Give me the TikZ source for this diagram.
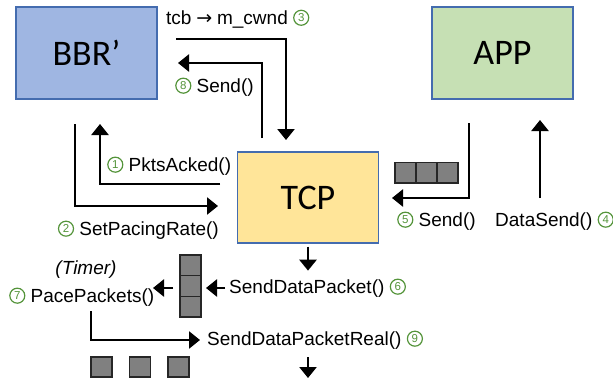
\documentclass[tikz,border=0pt]{standalone}
\usepackage{fontspec}
\setmainfont{Liberation Sans}
\newfontfamily\boxfont{Carlito}
\newfontfamily\circfont{DejaVu Sans}
\usetikzlibrary{arrows.meta,calc}

\definecolor{bbrfill}{RGB}{159,182,226}
\definecolor{appfill}{RGB}{198,224,180}
\definecolor{tcpfill}{RGB}{255,229,153}
\definecolor{boxedge}{RGB}{68,108,175}
\definecolor{pktgray}{RGB}{128,128,128}
\definecolor{stepgreen}{RGB}{84,148,58}

\tikzset{stepcirc/.style={circle,draw=stepgreen,text=stepgreen,line width=1.2pt,
    minimum size=15pt,inner sep=0pt,font=\fontsize{11.5}{12}\selectfont}}

% green step number in front of/behind a call
\newcommand\stepno[1]{\tikz[baseline={([yshift=-6.8pt]sn.center)}]\node[stepcirc] (sn) {#1};}
\newcommand\ptr{\makebox[15pt]{\circfont\fontsize{19}{22}\selectfont →}}

\begin{document}
\begin{tikzpicture}[x=1pt,y=-1pt,
        block/.style={draw=boxedge,line width=1.3pt,minimum width=141pt,
            minimum height=92pt,inner sep=0pt,
            font=\boxfont\fontsize{36}{40}\selectfont},
        pkt/.style={draw=black!85,fill=pktgray,line width=1.3pt,
            minimum width=21pt,minimum height=20.7pt,inner sep=0pt},
        flow/.style={line width=2.6pt,-{Triangle[width=17pt,length=11pt]}},
        call/.style={inner sep=0pt,font=\fontsize{19}{22}\selectfont}
        ]
        \useasboundingbox (0,0) rectangle (613,383);

        % the three modules
        \node[block,fill=bbrfill] (bbr) at (86.5,53) {BBR’};
        \node[block,fill=appfill] (app) at (502.5,53) {APP};
        \node[block,fill=tcpfill,minimum height=91pt] (tcp) at (308,197.5) {TCP};

        %% packet queues
        \foreach \i in {0,1,2} {
            \node[pkt] (sq\i) at (426.5+21*\i-21,172.5) {};
            \node[pkt] (vq\i) at (190.5,265.3+20.7*\i) {};
            \node[pkt,minimum height=20pt] (out\i) at (101.5+38.5*\i,367) {};
        }

        % end points of the connectors
        \coordinate (c3) at (176,39);    \coordinate (t3) at (286,140);
        \coordinate (s8) at (262,138);   \coordinate (t8) at (178,63);
        \coordinate (s1) at (220,184);   \coordinate (t1) at (100,124);
        \coordinate (s2) at (75,124);    \coordinate (t2) at (218,206);
        \coordinate (s5) at (469,123);   \coordinate (t5) at (392,198);
        \coordinate (s4) at (540,198);   \coordinate (t4) at (540,120);
        \coordinate (s6) at (225,288);   \coordinate (t6) at (206,288);
        \coordinate (s7) at (173,288);   \coordinate (t7) at (153,288);
        \coordinate (s9) at (91,311);    \coordinate (t9) at (200,340);
        \coordinate (wire) at (308,378);

        % BBR' <-> TCP
        \draw[flow] (c3) -| (t3)
        ;
        \draw[flow] (s8) |- (t8)
        ;
        \draw[flow] (s1) -| (t1)
        ;
        \draw[flow] (s2) |- (t2)
        ;
        %% APP <-> TCP
        \draw[flow] (s5) |- (t5)
        ;
        \draw[flow] (s4) -- (t4)
        ;
        %% TCP -> pacing queue -> wire
        \draw[flow] ([yshift=-3pt]tcp.south) -- ++(0,24)
        ;
        \draw[flow] (s6) -- (t6)
        ;
        \draw[flow] (s7) -- (t7)
        ;
        \draw[flow] (s9) |- (t9)
        ;
        \draw[flow] ($(wire)+(0,-21)$) -- (wire)
        ;

        % call labels
        \node[call,anchor=west] (l3) at (166,19) {tcb \ptr{} m\_cwnd \stepno{3}};
        \node[call,anchor=west] (l8) at (175,87) {\stepno{8} Send()};
        \node[call,anchor=west] (l1) at (107,166) {\stepno{1} PktsAcked()};
        \node[call,anchor=east] (l2) at (219,230) {\stepno{2} SetPacingRate()};
        \node[call,anchor=west] (l5) at (397,221) {\stepno{5} Send()};
        \node[call,anchor=west] (l4) at (495,221) {DataSend() \stepno{4}};
        \node[call,anchor=west] (l6) at (229,288) {SendDataPacket() \stepno{6}};
        \node[call,font=\itshape\fontsize{19}{22}\selectfont] (timer) at (86,270) {(Timer)};
        \node[call,anchor=west] (l7) at (9,297) {\stepno{7} PacePackets()};
        \node[call,anchor=west] (l9) at (207,340) {SendDataPacketReal() \stepno{9}};

    \end{tikzpicture}
\end{document}
